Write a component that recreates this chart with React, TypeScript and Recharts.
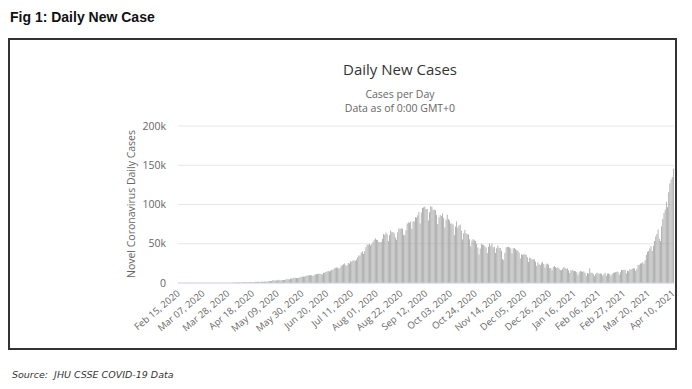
import { BarChart, Bar, XAxis, YAxis, CartesianGrid } from "recharts";

// daily new cases, in thousands, one array per month
const feb2020 = [0, 0, 0, 0, 0, 0, 0, 0, 0, 0, 0, 0, 0, 0, 0];
const mar2020 = [0, 0, 0, 0.02, 0, 0, 0, 0, 0, 0.02, 0, 0, 0, 0, 0.03, 0, 0, 0.03, 0.02, 0.05, 0.1, 0.07, 0.08, 0.09, 0.09, 0.07, 0.15, 0.14, 0.1, 0.15, 0.12];
const apr2020 = [0.4, 0.4, 0.5, 0.5, 0.6, 0.5, 0.6, 0.5, 0.6, 0.9, 0.8, 0.9, 0.8, 0.9, 1.1, 1.0, 0.9, 1.0, 1.3, 1.6, 1.3, 1.5, 1.7, 1.4, 1.8, 1.6, 1.5, 1.9, 1.8, 1.7];
const may2020 = [2.3, 2.6, 2.6, 2.5, 3.9, 3.0, 3.6, 3.3, 3.3, 4.2, 3.6, 3.5, 3.8, 3.7, 3.9, 4.8, 4.9, 5.0, 4.6, 5.6, 5.6, 6.1, 6.6, 6.6, 6.5, 6.4, 6.4, 7.3, 7.9, 8.1, 8.4];
const jun2020 = [8.1, 8.8, 9.6, 9.8, 9.9, 9.9, 9.9, 9.0, 10.0, 11.0, 11.0, 11.5, 11.9, 11.9, 11.5, 10.7, 13.1, 12.9, 14.0, 14.8, 15.4, 14.8, 15.6, 16.9, 16.9, 18.6, 19.4, 19.9, 19.5, 18.6];
const jul2020 = [19.1, 21.9, 22.7, 24.0, 24.9, 22.3, 22.7, 25.6, 25.0, 27.8, 27.2, 29.1, 28.7, 28.5, 30.0, 32.7, 34.9, 34.9, 38.7, 40.2, 37.1, 40.4, 45.6, 48.9, 48.6, 49.9, 47.7, 49.6, 52.5, 55.1, 57.1];
const aug2020 = [55.0, 54.7, 52.1, 52.0, 52.5, 56.3, 62.5, 61.5, 64.4, 62.1, 53.6, 60.9, 66.9, 64.6, 65.0, 63.5, 57.9, 55.0, 64.5, 69.7, 68.9, 69.9, 69.2, 61.4, 60.9, 67.2, 75.8, 77.3, 76.5, 78.5, 69.2];
const sep2020 = [78.4, 78.4, 83.9, 83.3, 86.4, 90.6, 75.8, 89.7, 95.7, 96.6, 97.6, 94.4, 94.4, 79.7, 90.1, 97.9, 97.0, 93.3, 93.3, 92.6, 86.9, 75.1, 83.3, 86.5, 85.4, 88.6, 82.8, 70.6, 80.5, 86.8];
const oct2020 = [81.5, 79.5, 75.8, 75.8, 74.4, 61.3, 72.0, 78.5, 70.5, 73.3, 74.4, 66.7, 55.3, 63.5, 67.7, 63.4, 62.2, 61.9, 55.7, 46.8, 54.0, 56.0, 54.4, 53.4, 50.1, 45.1, 36.4, 43.9, 49.9, 48.6, 48.3];
const nov2020 = [46.9, 45.2, 38.3, 46.3, 50.2, 47.6, 50.4, 45.7, 45.9, 38.1, 44.3, 47.9, 44.9, 44.7, 41.1, 30.5, 29.2, 38.6, 45.6, 45.9, 46.2, 45.2, 44.0, 37.9, 44.4, 44.5, 43.1, 41.8, 41.3, 38.8];
const dec2020 = [31.1, 36.6, 35.6, 36.6, 36.6, 36.0, 32.9, 26.6, 32.1, 31.5, 30.0, 30.3, 30.0, 27.1, 22.1, 26.4, 24.0, 22.9, 25.2, 26.6, 24.3, 19.6, 23.9, 24.7, 23.1, 19.0, 19.1, 16.4, 20.5, 21.8, 20.0];
const jan2021 = [19.1, 20.0, 18.1, 16.5, 16.4, 18.0, 20.3, 19.0, 18.2, 18.6, 16.3, 12.6, 15.9, 16.9, 15.6, 15.2, 15.1, 13.8, 10.1, 13.8, 15.2, 14.5, 14.3, 14.8, 13.2, 9.1, 12.7, 11.7, 18.9, 13.1, 13.0];
const feb2021 = [11.4, 8.6, 11.0, 12.9, 12.4, 11.7, 12.0, 11.8, 9.1, 11.1, 12.9, 9.3, 12.2, 12.1, 11.6, 9.1, 11.6, 13.2, 13.1, 14.0, 14.3, 14.2, 10.6, 13.7, 16.7, 16.6, 16.5, 16.8];
const mar2021 = [12.3, 15.5, 14.9, 17.4, 16.8, 18.3, 18.7, 18.6, 15.4, 17.9, 22.9, 23.3, 24.9, 25.3, 26.3, 24.5, 28.9, 35.9, 39.7, 40.9, 43.8, 46.9, 40.7, 47.3, 53.5, 59.1, 62.3, 68.0, 56.2, 53.5, 72.3];
const apr2021 = [81.5, 89.1, 93.2, 103.6, 96.6, 115.7, 126.8, 131.9, 135.0, 145.4];

const dailyCases = [
  ...feb2020, ...mar2020, ...apr2020, ...may2020, ...jun2020, ...jul2020,
  ...aug2020, ...sep2020, ...oct2020, ...nov2020, ...dec2020,
  ...jan2021, ...feb2021, ...mar2021, ...apr2021,
];

const tickLabels = [
  "Feb 15, 2020", "Mar 07, 2020", "Mar 28, 2020", "Apr 18, 2020", "May 09, 2020",
  "May 30, 2020", "Jun 20, 2020", "Jul 11, 2020", "Aug 01, 2020", "Aug 22, 2020",
  "Sep 12, 2020", "Oct 03, 2020", "Oct 24, 2020", "Nov 14, 2020", "Dec 05, 2020",
  "Dec 26, 2020", "Jan 16, 2021", "Feb 06, 2021", "Feb 27, 2021", "Mar 20, 2021",
  "Apr 10, 2021",
];

const yTicks = [0, 50, 100, 150, 200];

const MONTHS = ["Jan", "Feb", "Mar", "Apr", "May", "Jun", "Jul", "Aug", "Sep", "Oct", "Nov", "Dec"];

function fmtDate(d: Date) {
  const day = String(d.getUTCDate()).padStart(2, "0");
  return `${MONTHS[d.getUTCMonth()]} ${day}, ${d.getUTCFullYear()}`;
}

const start = Date.UTC(2020, 1, 15);
const data = dailyCases.map((v, i) => ({
  date: fmtDate(new Date(start + i * 86400000)),
  cases: v,
}));

const FONT = "'Open Sans', 'DejaVu Sans', sans-serif";

function DateTick(props: any) {
  const { x, y, payload } = props;
  return (
    <g transform={`translate(${x},${y})`}>
      <text
        transform="rotate(-40)"
        textAnchor="end"
        dy="0.35em"
        fontSize={9.5}
        fill="#666"
        fontFamily={FONT}
      >
        {payload.value}
      </text>
    </g>
  );
}

export default function App() {
  return (
    <div style={{ position: "absolute", left: 0, top: 0, width: 692, height: 389, background: "#fff" }}>
      <div
        style={{
          position: "absolute",
          left: 10,
          top: 9,
          fontFamily: "'Liberation Sans', Arial, sans-serif",
          fontWeight: "bold",
          fontSize: 14,
          lineHeight: "16px",
          color: "#111",
        }}
      >
        Fig 1: Daily New Case
      </div>
      <div
        style={{
          position: "absolute",
          left: 8,
          top: 38,
          width: 669,
          height: 312,
          border: "2px solid #333",
          boxSizing: "border-box",
        }}
      />
      <div
        style={{
          position: "absolute",
          left: 250,
          width: 300,
          top: 59,
          textAlign: "center",
          fontFamily: FONT,
          fontSize: 15,
          lineHeight: "20px",
          color: "#333",
        }}
      >
        Daily New Cases
      </div>
      <div
        style={{
          position: "absolute",
          left: 250,
          width: 300,
          top: 87,
          textAlign: "center",
          fontFamily: FONT,
          fontSize: 10.5,
          lineHeight: "14px",
          color: "#666",
        }}
      >
        Cases per Day
        <br />
        Data as of 0:00 GMT+0
      </div>
      <div
        style={{
          position: "absolute",
          left: 131,
          top: 204,
          transform: "translate(-50%, -50%) rotate(-90deg)",
          whiteSpace: "nowrap",
          fontFamily: FONT,
          fontSize: 10.5,
          color: "#666",
        }}
      >
        Novel Coronavirus Daily Cases
      </div>
      <div style={{ position: "absolute", left: 0, top: 0 }}>
        <BarChart
          width={692}
          height={389}
          data={data}
          margin={{ top: 126, right: 18, bottom: 46, left: 128 }}
          barCategoryGap="15%"
        >
          <CartesianGrid vertical={false} stroke="#e6e6e6" />
          <XAxis
            dataKey="date"
            type="category"
            ticks={tickLabels}
            interval={0}
            tick={<DateTick />}
            tickLine={false}
            tickSize={6}
            tickMargin={3}
            height={60}
            axisLine={{ stroke: "#ccd6eb" }}
          />
          <YAxis
            width={50}
            domain={[0, 200]}
            ticks={yTicks}
            tickFormatter={(v: number) => (v === 0 ? "0" : `${v}k`)}
            tick={{ fontSize: 10.5, fill: "#666", fontFamily: FONT }}
            tickLine={false}
            axisLine={false}
            tickSize={6}
            tickMargin={6}
          />
          <Bar dataKey="cases" fill="#a3a3a3" isAnimationActive={false} />
        </BarChart>
      </div>
      <div
        style={{
          position: "absolute",
          left: 12,
          top: 368,
          fontFamily: "'DejaVu Sans', sans-serif",
          fontStyle: "italic",
          fontSize: 9.5,
          lineHeight: "13px",
          color: "#333",
          whiteSpace: "pre",
        }}
      >
        Source:  JHU CSSE COVID-19 Data
      </div>
    </div>
  );
}
